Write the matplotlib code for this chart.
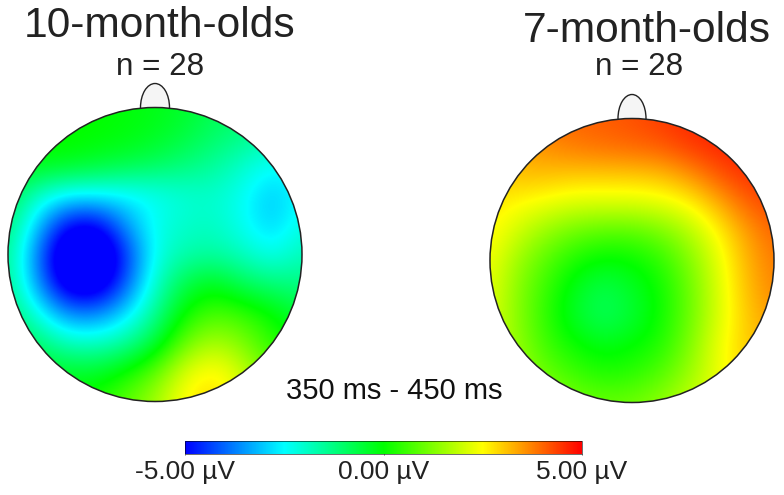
import numpy as np
import matplotlib
matplotlib.use("Agg")
import matplotlib.pyplot as plt
from matplotlib.colors import LinearSegmentedColormap, Normalize
from matplotlib.cm import ScalarMappable
from matplotlib.patches import Circle, Ellipse

plt.rcParams['font.family'] = ['Liberation Sans', 'DejaVu Sans']

titles = ["10-month-olds", "7-month-olds"]
counts = ["n = 28", "n = 28"]
window_label = "350 ms - 450 ms"
cbar_ticks = [-5, 0, 5]
cbar_labels = ["-5.00 µV", "0.00 µV", "5.00 µV"]

# Scalp voltage (µV) read on a coarse grid: rows from front (top) to back, columns left to right
map_10mo = [
    [ 0.0,  0.0,  0.0,  0.0, -0.1, -0.2, -0.4, -0.8, -1.0, -1.2, -1.3],
    [ 0.1,  0.1,  0.1,  0.0, -0.1, -0.3, -0.6, -1.0, -1.3, -1.7, -1.8],
    [-0.2, -0.2, -0.3, -0.5, -0.7, -0.9, -1.2, -1.5, -2.0, -2.5, -2.3],
    [-0.7, -2.0, -2.6, -2.6, -2.6, -2.4, -2.1, -2.0, -2.4, -3.1, -2.4],
    [-1.1, -3.0, -5.0, -5.2, -3.5, -2.3, -2.0, -1.9, -2.4, -3.0, -2.2],
    [-1.3, -3.8, -6.3, -6.5, -4.6, -2.3, -1.7, -1.6, -1.9, -2.4, -1.8],
    [-1.3, -3.5, -5.8, -6.0, -4.2, -2.0, -0.7, -0.2, -0.9, -1.2, -1.3],
    [-1.0, -2.3, -3.7, -3.8, -2.9, -1.5,  0.1,  0.7,  0.5,  0.0, -0.6],
    [-0.6, -1.1, -1.9, -2.0, -1.6, -0.6,  1.0,  1.7,  1.2,  0.4, -0.1],
    [-0.2, -0.3, -0.4, -0.4,  0.1,  0.9,  2.2,  2.7,  2.0,  0.9,  0.3],
    [ 0.0,  0.0,  0.1,  0.3,  0.9,  1.6,  2.6,  2.9,  2.2,  1.2,  0.6],
]
map_7mo = [
    [3.5, 3.7, 3.9, 4.0, 4.1, 4.2, 4.4, 4.6, 4.7, 4.8, 4.8],
    [3.2, 3.4, 3.6, 3.8, 3.9, 4.0, 4.1, 4.4, 4.6, 4.7, 4.7],
    [3.0, 3.1, 3.1, 3.0, 3.0, 3.0, 3.1, 3.5, 4.1, 4.5, 4.5],
    [2.7, 2.5, 2.3, 2.1, 2.1, 2.1, 2.2, 2.5, 3.2, 4.0, 4.3],
    [2.6, 2.0, 1.4, 1.0, 0.8, 0.8, 1.1, 1.7, 2.5, 3.4, 4.0],
    [2.4, 1.5, 0.8, 0.2, -0.1, 0.0, 0.4, 1.2, 2.2, 3.2, 3.8],
    [2.3, 1.3, 0.5, -0.3, -0.8, -0.4, 0.1, 1.0, 2.1, 3.1, 3.7],
    [2.2, 1.3, 0.4, -0.4, -0.9, -0.5, 0.1, 1.0, 2.1, 3.0, 3.5],
    [2.1, 1.4, 0.6, 0.1, -0.2, 0.0, 0.3, 1.2, 2.3, 3.0, 3.3],
    [2.0, 1.6, 1.0, 0.6, 0.3, 0.4, 0.8, 1.5, 2.3, 2.9, 3.0],
    [2.0, 1.8, 1.5, 1.2, 1.0, 1.1, 1.4, 1.9, 2.4, 2.7, 2.8],
]

W, H = 784, 495
fig = plt.figure(figsize=(W / 100, H / 100), dpi=100, facecolor="white")
cmap = LinearSegmentedColormap.from_list(
    "scalp", ["#0000ff", "#00ffff", "#00ff00", "#ffff00", "#ff0000"], N=512)
norm = Normalize(-5, 5)


def px_axes(x0, y0, x1, y1):
    return fig.add_axes([x0 / W, 1 - y1 / H, (x1 - x0) / W, (y1 - y0) / H])


def head(values, cx, cy, r, nose_w, nose_h):
    ax = px_axes(cx - r, cy - r, cx + r, cy + r)
    ax.set_aspect("equal")
    ax.axis("off")
    nose = Ellipse((0, 1), 2 * nose_w / r, 2 * nose_h / r, fc="#f5f5f5", ec="#222222",
                   lw=1.0, clip_on=False, zorder=1)
    ax.add_patch(nose)
    data = np.array(values, dtype=float)
    n = data.shape[0]
    half = 1 / (n - 1)
    im = ax.imshow(data, cmap=cmap, norm=norm, interpolation="bicubic",
                   interpolation_stage="data",
                   extent=(-1 - half, 1 + half, -1 - half, 1 + half), zorder=2)
    ax.set_xlim(-1, 1)
    ax.set_ylim(-1, 1)
    clip = Circle((0, 0), 1, transform=ax.transData)
    im.set_clip_path(clip)
    ax.add_patch(Circle((0, 0), 1, fc="none", ec="#222222", lw=1.1, clip_on=False, zorder=3))


head(map_10mo, 155, 254.5, 147, 14.5, 24)
head(map_7mo, 632, 260.5, 142, 14, 24)

fig.text(159.5 / W, 1 - 26 / H, titles[0], fontsize=30.6, ha="center", va="center", color="#222222")
fig.text(647 / W, 1 - 31 / H, titles[1], fontsize=30.6, ha="center", va="center", color="#222222")
fig.text(160.5 / W, 1 - 67 / H, counts[0], fontsize=22.6, ha="center", va="center", color="#222222")
fig.text(639 / W, 1 - 67 / H, counts[1], fontsize=22.6, ha="center", va="center", color="#222222")
fig.text(394 / W, 1 - 391 / H, window_label, fontsize=21, ha="center", va="center", color="#111111")

cax = px_axes(185, 441, 582, 454)
cb = fig.colorbar(ScalarMappable(norm=norm, cmap=cmap), cax=cax, orientation="horizontal")
cb.set_ticks(cbar_ticks)
cb.set_ticklabels(cbar_labels)
cb.ax.tick_params(length=1, width=0.5, pad=3, labelsize=19, colors="#222222")
cb.outline.set_linewidth(0.4)

fig.savefig("out.png", dpi=100, facecolor="white")
